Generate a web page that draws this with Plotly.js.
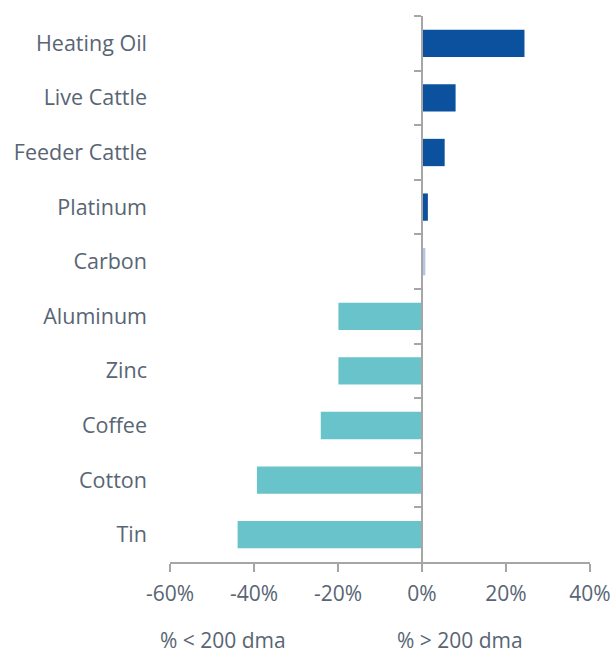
<!DOCTYPE html>
<html>
<head>
<meta charset="utf-8">
<script src="https://cdn.plot.ly/plotly-3.0.1.min.js"></script>
<style>
  html, body { margin: 0; padding: 0; background: #ffffff; }
  #chart { width: 614px; height: 655px; }
</style>
</head>
<body>
<div id="chart"></div>
<script>
// Commodities: distance from the 200-day moving average
const categories = ["Heating Oil", "Live Cattle", "Feeder Cattle", "Platinum", "Carbon",
                    "Aluminum", "Zinc", "Coffee", "Cotton", "Tin"];
const pctVs200dma = [24.4, 8.0, 5.4, 1.4, 0.8, -19.9, -19.9, -24.1, -39.3, -43.9];
const xTickValues = [-60, -40, -20, 0, 20, 40];
const xTickLabels = ["-60%", "-40%", "-20%", "0%", "20%", "40%"];
const belowLabel = "% < 200 dma";
const aboveLabel = "% > 200 dma";

const POS = "#0b519e", NEG = "#69c3cb", SMALL = "#b3c6e3";
const barColors = pctVs200dma.map(v => v < 0 ? NEG : (v < 1 ? SMALL : POS));

const FONT = "'Open Sans', sans-serif";
const TEXT = "#586574";
const AXIS = "#a6a6a6";

const bars = {
  type: "bar",
  orientation: "h",
  x: pctVs200dma,
  y: categories,
  width: 0.5,
  marker: { color: barColors, line: { width: 0 } },
  hoverinfo: "skip",
  xaxis: "x",
  yaxis: "y"
};

// invisible companion trace so the zero-line axis carries the same categories
const zeroAxisTrace = {
  type: "scatter",
  mode: "markers",
  x: categories.map(() => 0),
  y: categories,
  marker: { opacity: 0 },
  hoverinfo: "skip",
  showlegend: false,
  xaxis: "x",
  yaxis: "y2"
};

const catRange = [categories.length - 0.5, -0.5];

const layout = {
  width: 614,
  height: 655,
  margin: { l: 170, r: 24, t: 16, b: 93 },
  paper_bgcolor: "#ffffff",
  plot_bgcolor: "#ffffff",
  showlegend: false,
  bargap: 0.5,
  font: { family: FONT, color: TEXT, size: 21 },
  xaxis: {
    range: [-60, 40],
    tickvals: xTickValues,
    ticktext: xTickLabels,
    showgrid: false,
    zeroline: false,
    showline: true,
    linecolor: AXIS,
    linewidth: 2,
    ticks: "outside",
    ticklen: 8,
    tickwidth: 2,
    tickcolor: AXIS,
    ticklabelstandoff: 4,
    tickfont: { family: FONT, color: TEXT, size: 21 },
    fixedrange: true
  },
  yaxis: {
    type: "category",
    categoryorder: "array",
    categoryarray: categories,
    range: catRange,
    showgrid: false,
    zeroline: false,
    showline: false,
    ticks: "",
    ticklabelstandoff: 22,
    tickfont: { family: FONT, color: TEXT, size: 21.5 },
    fixedrange: true
  },
  yaxis2: {
    type: "category",
    categoryorder: "array",
    categoryarray: categories,
    range: catRange,
    overlaying: "y",
    anchor: "free",
    position: 0.6,
    side: "left",
    showgrid: false,
    zeroline: false,
    showline: true,
    linecolor: AXIS,
    linewidth: 2,
    ticks: "outside",
    tickson: "boundaries",
    ticklen: 7,
    tickwidth: 2,
    tickcolor: AXIS,
    showticklabels: false,
    fixedrange: true
  },
  annotations: [
    { text: belowLabel, xref: "paper", yref: "paper", x: 0.126, y: -0.142,
      xanchor: "center", yanchor: "middle", showarrow: false,
      font: { family: FONT, color: TEXT, size: 21 } },
    { text: aboveLabel, xref: "paper", yref: "paper", x: 0.69, y: -0.142,
      xanchor: "center", yanchor: "middle", showarrow: false,
      font: { family: FONT, color: TEXT, size: 21 } }
  ]
};

Plotly.newPlot("chart", [bars, zeroAxisTrace], layout, { displayModeBar: false, staticPlot: true });
</script>
</body>
</html>
